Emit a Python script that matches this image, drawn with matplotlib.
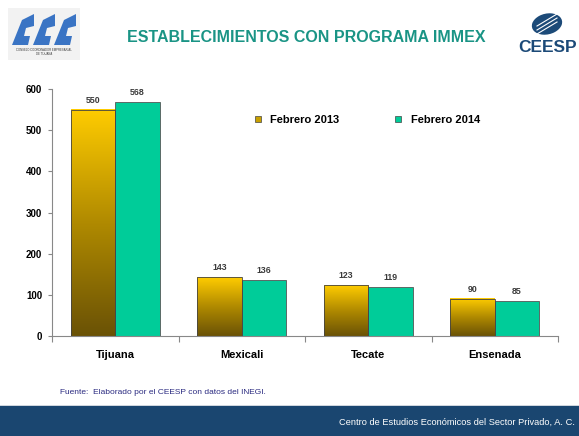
import matplotlib
matplotlib.use("Agg")
import matplotlib.pyplot as plt
import numpy as np
from matplotlib.colors import LinearSegmentedColormap
from matplotlib.patches import Rectangle, Ellipse, Polygon
from matplotlib.lines import Line2D

plt.rcParams['font.family'] = ['Liberation Sans', 'DejaVu Sans']

categories = ["Tijuana", "Mexicali", "Tecate", "Ensenada"]
feb2013 = [550, 143, 123, 90]
feb2014 = [568, 136, 119, 85]
series_names = ["Febrero 2013", "Febrero 2014"]
yticks = [0, 100, 200, 300, 400, 500, 600]

fig = plt.figure(figsize=(5.79, 4.36), dpi=100)
W, H = 579, 436
ax = fig.add_axes([52/W, (H-336)/H, (558-52)/W, (336-89)/H])

x = np.arange(len(categories))
bw = 0.35
gold_cmap = LinearSegmentedColormap.from_list("g", ["#6a5206", "#b08a00", "#ffcc00"])
grad = np.linspace(0, 1, 256).reshape(-1, 1)
green = "#00cc99"

for i, (a, b) in enumerate(zip(feb2013, feb2014)):
    x0 = x[i] - bw
    ax.imshow(grad, extent=[x0, x0 + bw, 0, a], origin='lower', cmap=gold_cmap,
              aspect='auto', zorder=2)
    ax.add_patch(Rectangle((x0, 0), bw, a, fill=False, edgecolor='#444444', lw=0.6, zorder=3))
    ax.bar(x[i], b, width=bw, align='edge', color=green, edgecolor='#555555', lw=0.6, zorder=2)
    ax.text(x0 + bw/2, a + 12, str(a), ha='center', va='bottom', fontsize=6.3,
            fontweight='bold', color='#3a3a3a')
    ax.text(x[i] + bw/2, b + 12, str(b), ha='center', va='bottom', fontsize=6.3,
            fontweight='bold', color='#3a3a3a')

ax.set_xlim(-0.5, len(categories) - 0.5)
ax.set_ylim(0, 600)
ax.set_yticks(yticks)
ax.set_yticklabels([str(v) for v in yticks], fontsize=7, fontweight='bold')
ax.set_xticks(np.arange(len(categories) + 1) - 0.5, minor=False)
ax.set_xticklabels([])
ax.set_xticks(x, minor=True)
ax.set_xticklabels(categories, minor=True, fontsize=8, fontweight='bold')
ax.tick_params(axis='x', which='minor', length=0, pad=10)
ax.tick_params(axis='x', which='major', length=4, direction='out', color='#888888')
ax.tick_params(axis='y', length=3, color='#888888', pad=4)
for s in ['top', 'right']:
    ax.spines[s].set_visible(False)
for s in ['left', 'bottom']:
    ax.spines[s].set_color('#888888')
    ax.spines[s].set_linewidth(0.8)

handles = [Line2D([], [], marker='s', ls='', markersize=5, markerfacecolor='#c8a000',
                  markeredgecolor='#444444', markeredgewidth=0.5),
           Line2D([], [], marker='s', ls='', markersize=5, markerfacecolor=green,
                  markeredgecolor='#444444', markeredgewidth=0.5)]
leg = ax.legend(handles, series_names, ncol=2, frameon=False,
                prop={'weight': 'bold', 'size': 8}, handletextpad=0.1,
                columnspacing=4.3, loc='center left',
                bbox_to_anchor=((237-52)/(558-52), (336-120)/(336-89)))

# Title
fig.text(306/W, 1 - 38/H, "ESTABLECIMIENTOS CON PROGRAMA IMMEX", ha='center', va='center',
         fontsize=11.5, fontweight='bold', color='#1a9485')

# Source
fig.text(60/W, 1 - 392/H, "Fuente:  Elaborado por el CEESP con datos del INEGI.", ha='left',
         va='center', fontsize=6, color='#2a2a80')

# Footer banner
fig.patches.append(Rectangle((0, 0), 1, (H-406)/H, transform=fig.transFigure,
                             facecolor='#1a4670', edgecolor='none'))
fig.patches.append(Rectangle((0, (H-406)/H), 1, 1.5/H, transform=fig.transFigure,
                             facecolor='#cfd6de', edgecolor='none'))
fig.text(575/W, 1 - 422/H, "Centro de Estudios Económicos del Sector Privado, A. C.",
         ha='right', va='center', fontsize=6.7, color='white')

# Left logo (approximation)
fig.patches.append(Rectangle((8/W, 1-60/H), 72/W, 52/H, transform=fig.transFigure,
                             facecolor='#f2f2f2', edgecolor='none'))
for k in range(3):
    xs = 12 + k*21
    pts = [(xs, 45), (xs+10, 20), (xs+22, 14), (xs+22, 26), (xs+14, 28), (xs+12, 36), (xs+18, 36), (xs+16, 45)]
    fig.patches.append(Polygon([(px/W, 1-py/H) for px, py in pts], closed=True,
                               transform=fig.transFigure, facecolor='#3a74c4', edgecolor='none'))
fig.text(44/W, 1-50/H, "CONSEJO COORDINADOR EMPRESARIAL", ha='center', va='center',
         fontsize=2, color='#333333')
fig.text(44/W, 1-54/H, "DE TIJUANA", ha='center', va='center', fontsize=2, color='#333333')

# Right logo (approximation)
fig.patches.append(Ellipse((547/W, 1-24/H), 32/W, 20/H, angle=35, transform=fig.transFigure,
                           facecolor='#1c4a78', edgecolor='none'))
for dy in (-4, 0, 4):
    fig.lines.append(Line2D([(537)/W, (557)/W], [1-(30+dy)/H, 1-(18+dy)/H],
                            transform=fig.transFigure, color='white', lw=0.8))
fig.text(548/W, 1-47/H, "CEESP", ha='center', va='center', fontsize=12.5, fontweight='bold',
         color='#1c4a78')

fig.savefig("out.png", dpi=100)
